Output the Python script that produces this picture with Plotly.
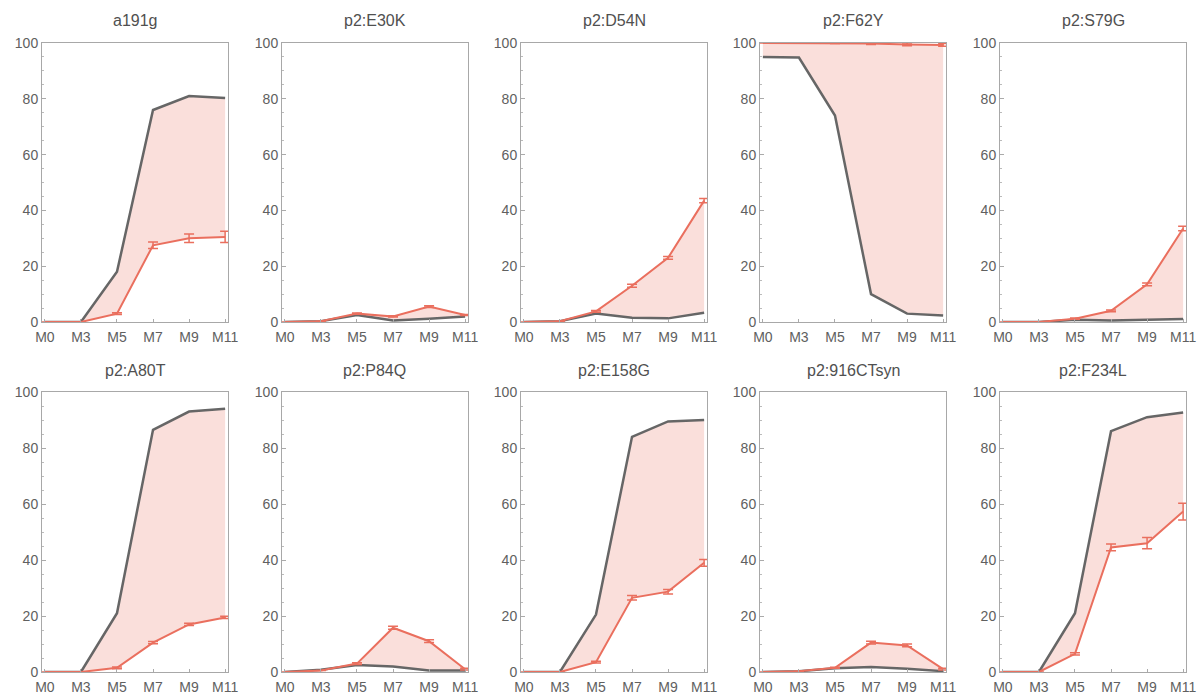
import plotly.graph_objects as go

months = ["M0", "M3", "M5", "M7", "M9", "M11"]
titles = ["a191g", "p2:E30K", "p2:D54N", "p2:F62Y", "p2:S79G",
          "p2:A80T", "p2:P84Q", "p2:E158G", "p2:916CTsyn", "p2:F234L"]

gray_vals = [
    [0, 0, 18, 76, 81, 80.3],
    [0, 0.3, 2.5, 0.5, 1.2, 2],
    [0, 0.3, 3, 1.5, 1.3, 3.3],
    [95, 94.8, 74, 10, 3, 2.3],
    [0, 0, 0.8, 0.5, 0.8, 1.1],
    [0, 0, 21, 86.5, 93, 94],
    [0, 0.8, 2.5, 2, 0.5, 0.5],
    [0, 0, 20.5, 84, 89.5, 90],
    [0, 0.3, 1.3, 1.8, 1.2, 0.3],
    [0, 0, 21, 86, 91, 92.7],
]
red_vals = [
    [0, 0, 3, 27.5, 30, 30.5],
    [0, 0.3, 3, 2, 5.5, 2.5],
    [0, 0.3, 3.8, 13, 23, 43.5],
    [100, 100, 100, 99.8, 99.5, 99.3],
    [0, 0, 1.2, 4, 13.5, 33.5],
    [0, 0, 1.5, 10.5, 17, 19.5],
    [0, 0.5, 3, 15.8, 11, 1],
    [0, 0, 3.5, 26.5, 28.7, 39],
    [0, 0.3, 1.5, 10.5, 9.5, 1],
    [0, 0, 6.5, 44.5, 46, 57.3],
]
red_err = [
    [0, 0, 0.3, 1.2, 1.5, 2],
    [0, 0, 0.2, 0.2, 0.3, 0.2],
    [0, 0, 0.3, 0.5, 0.5, 0.8],
    [0, 0, 0.2, 0.3, 0.5, 0.5],
    [0, 0, 0.2, 0.3, 0.5, 0.8],
    [0, 0, 0.3, 0.4, 0.4, 0.4],
    [0, 0, 0.3, 0.5, 0.5, 0.3],
    [0, 0, 0.3, 0.8, 0.8, 1.2],
    [0, 0, 0.2, 0.5, 0.5, 0.3],
    [0, 0, 0.4, 1.2, 2, 3],
]

W, H = 1201, 695
GRAY = "#666666"
RED = "#ea6f5e"
FILL = "rgba(244,188,180,0.48)"

fig = go.Figure()
xs = list(range(len(months)))

col_left = [42, 282, 521, 760, 1000]
panel_w = 186
row_top = [43, 392]
row_bot = [322, 672]

for k, title in enumerate(titles):
    r, c = divmod(k, 5)
    n = k + 1
    xa = "x" if n == 1 else f"x{n}"
    ya = "y" if n == 1 else f"y{n}"
    fig.add_trace(go.Scatter(x=xs, y=gray_vals[k], mode="lines",
                             line=dict(color=GRAY, width=2.5),
                             xaxis=xa, yaxis=ya, showlegend=False))
    fig.add_trace(go.Scatter(x=xs, y=red_vals[k], mode="lines",
                             line=dict(color=RED, width=2),
                             fill="tonexty", fillcolor=FILL,
                             error_y=dict(type="data", array=red_err[k],
                                          color=RED, thickness=1.5, width=5),
                             xaxis=xa, yaxis=ya, showlegend=False))
    x0 = col_left[c] / W
    x1 = (col_left[c] + panel_w) / W
    y1 = 1 - row_top[r] / H
    y0 = 1 - row_bot[r] / H
    axis_common = dict(showgrid=False, zeroline=False, showline=True,
                       linecolor="#a8a8a8", linewidth=1, mirror=True,
                       automargin=False,
                       tickfont=dict(family="Liberation Sans, Arial", size=14, color="#606060"))
    fig.layout[("xaxis" if n == 1 else f"xaxis{n}")] = dict(
        domain=[x0, x1], anchor=ya, range=[-0.08, 5.08],
        tickmode="array", tickvals=xs, ticktext=months,
        ticks="inside", ticklen=3, tickcolor="#aaaaaa",
        ticklabelstandoff=2, **axis_common)
    fig.layout[("yaxis" if n == 1 else f"yaxis{n}")] = dict(
        domain=[y0, y1], anchor=xa, range=[0, 100],
        tickmode="array", tickvals=[0, 20, 40, 60, 80, 100],
        ticks="inside", ticklen=4, tickcolor="#aaaaaa",
        minor=dict(dtick=5, ticks="inside", ticklen=2, tickcolor="#bbbbbb"),
        **axis_common)
    fig.add_annotation(text=title, x=(x0 + x1) / 2, y=1 - (row_top[r] - 22) / H,
                       xref="paper", yref="paper", showarrow=False,
                       xanchor="center", yanchor="middle",
                       font=dict(family="Liberation Sans, Arial", size=16, color="#505050"))

fig.update_layout(width=W, height=H, margin=dict(l=0, r=0, t=0, b=0),
                  paper_bgcolor="white", plot_bgcolor="white")
fig.write_html("out.html")
